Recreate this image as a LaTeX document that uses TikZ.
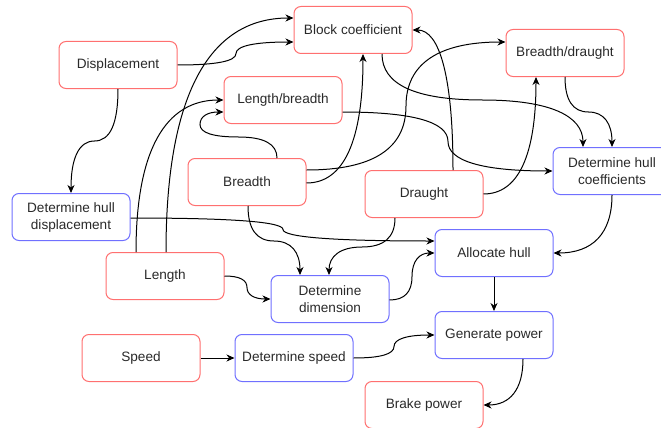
\documentclass[tikz,border=0pt]{standalone}
\usepackage{fontspec}
\setmainfont{Liberation Sans}
\usetikzlibrary{arrows.meta,calc}
\definecolor{redline}{HTML}{FF7070}
\definecolor{blueline}{HTML}{7070FF}
\definecolor{txt}{HTML}{2A2A2A}
\newcommand\qc[3]{.. controls ($(#1)!0.6667!(#2)$) and ($(#3)!0.6667!(#2)$) .. (#3)}
\tikzset{
  box/.style={rectangle, rounded corners=7pt, minimum width=118pt, minimum height=47pt,
    line width=1pt, fill=white, text=txt, align=center, inner sep=2pt,
    font=\fontsize{13.6pt}{17pt}\selectfont},
  inbox/.style={box, draw=redline},
  procbox/.style={box, draw=blueline},
  arr/.style={draw=black, line width=1pt, -{Stealth[length=8pt,width=7pt,inset=2.5pt]}}
}
\begin{document}
\begin{tikzpicture}[x=1pt,y=-1pt]
\useasboundingbox (0,0) rectangle (661,428);
% nodes
\node[inbox] (block) at (353,30) {Block coefficient};
\node[inbox] (disp) at (118,65) {Displacement};
\node[inbox] (lb) at (283,100) {Length/breadth};
\node[inbox] (breadth) at (247,182) {Breadth};
\node[inbox] (bd) at (565,53) {Breadth/draught};
\node[procbox] (dhc) at (612,171) {Determine hull\\coefficients};
\node[inbox] (draught) at (424,194) {Draught};
\node[procbox] (dhd) at (71,217) {Determine hull\\displacement};
\node[inbox] (length) at (165,276) {Length};
\node[procbox] (dd) at (330,299) {Determine\\dimension};
\node[procbox] (ah) at (494,253) {Allocate hull};
\node[inbox] (speed) at (141,358) {Speed};
\node[procbox] (ds) at (294,358) {Determine speed};
\node[procbox] (gp) at (494,335) {Generate power};
\node[inbox] (bp) at (424,405) {Brake power};
% connectors
\draw[arr] (disp.east) \qc{disp.east}{236,65}{236,53.5} \qc{236,53.5}{236,42}{block.west |- 0,42};
\draw[arr] (disp.south) \qc{disp.south}{118,141}{94.5,141} \qc{94.5,141}{71,141}{dhd.north};
\draw[arr] (breadth.north -| 277,0) \qc{breadth.north -| 277,0}{277,137}{238.5,137} \qc{238.5,137}{200,137}{200,124.5} \qc{200,124.5}{200,112}{lb.west |- 0,112};
\draw[arr] (length.north -| 136,0) \qc{length.north -| 136,0}{136,100}{lb.west};
\draw[arr] (length.north -| 166,0) \qc{length.north -| 166,0}{166,18}{block.west |- 0,18};
\draw[arr] (breadth.east |- 0,183) \qc{breadth.east |- 0,183}{363,183}{block.south -| 363,0};
\draw[arr] (breadth.east |- 0,170) \qc{breadth.east |- 0,170}{406,170}{406,106} \qc{406,106}{406,42}{bd.west |- 0,42};
\draw[arr] (lb.east |- 0,112) \qc{lb.east |- 0,112}{448,112}{448,141.5} \qc{448,141.5}{448,171}{dhc.west};
\draw[arr] (block.south -| 382,0) \qc{block.south -| 382,0}{382,100}{482.5,100} \qc{482.5,100}{583,100}{dhc.north -| 583,0};
\draw[arr] (bd.south) \qc{bd.south}{565,112}{588.5,112} \qc{588.5,112}{612,112}{dhc.north};
\draw[arr] (draught.north -| 453,0) \qc{draught.north -| 453,0}{453,30}{block.east};
\draw[arr] (draught.east) \qc{draught.east}{536,194}{bd.south -| 536,0};
\draw[arr] (dhc.south) \qc{dhc.south}{612,253}{ah.east};
\draw[arr] (dhd.east |- 0,218) \qc{dhd.east |- 0,218}{283,218}{283,229.5} \qc{283,229.5}{283,241}{ah.west |- 0,241};
\draw[arr] (dd.east |- 0,300) \qc{dd.east |- 0,300}{412,300}{412,276.5} \qc{412,276.5}{412,253}{ah.west};
\draw[arr] (breadth.south -| 248,0) \qc{breadth.south -| 248,0}{248,241}{274,241} \qc{274,241}{300,241}{dd.north -| 300,0};
\draw[arr] (draught.south -| 395,0) \qc{draught.south -| 395,0}{395,247}{362,247} \qc{362,247}{329,247}{dd.north -| 329,0};
\draw[arr] (length.east) \qc{length.east}{247,276}{247,287.5} \qc{247,287.5}{247,299}{dd.west};
\draw[arr] (ah.south) -- (gp.north);
\draw[arr] (speed.east) -- (ds.west);
\draw[arr] (ds.east) \qc{ds.east}{394,358}{394,346.5} \qc{394,346.5}{394,335}{gp.west};
\draw[arr] (gp.south -| 523,0) \qc{gp.south -| 523,0}{523,405}{bp.east};
\end{tikzpicture}
\end{document}
